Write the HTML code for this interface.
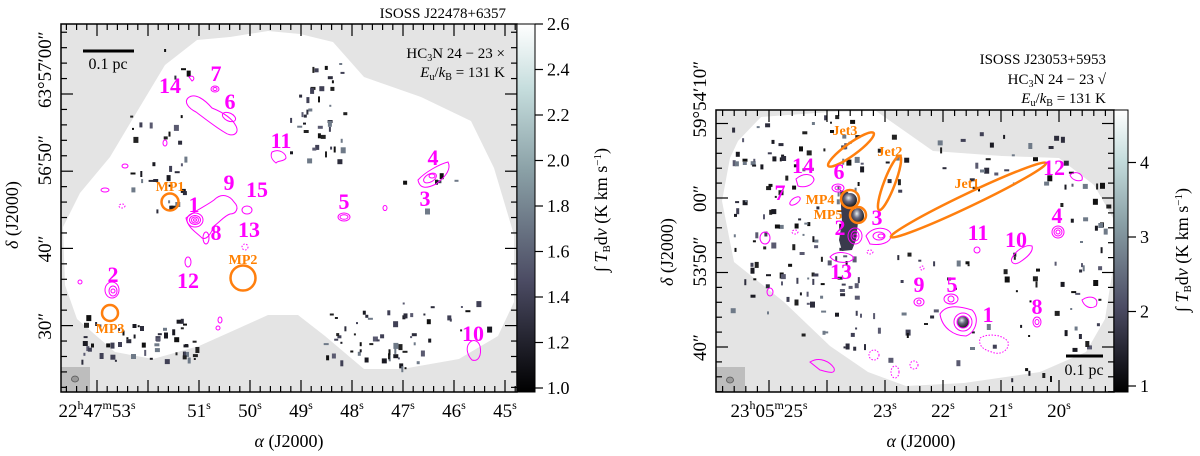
<!DOCTYPE html>
<html><head><meta charset="utf-8"><title>HC3N maps</title>
<style>
html,body{margin:0;padding:0;background:#fff;}
svg{display:block;font-family:"Liberation Serif",serif;}
.num{font-family:"Liberation Serif",serif;font-weight:bold;fill:#ff00ff;font-size:22px;text-anchor:middle;}
.mp{font-family:"Liberation Serif",serif;font-weight:bold;fill:#ff8000;font-size:14px;text-anchor:middle;}
.ct{fill:none;stroke:#ff00ff;stroke-width:1;}
.ctd{fill:none;stroke:#ff00ff;stroke-width:1;stroke-dasharray:1.5 1.5;}
.or{fill:none;stroke:#ff7f0e;stroke-width:2.5;}
</style></head>
<body>
<svg id="fig" width="1200" height="456" viewBox="0 0 1200 456">
<defs>
<linearGradient id="cmap" x1="0" y1="1" x2="0" y2="0">
<stop offset="0" stop-color="#000"/><stop offset="0.3" stop-color="#4b4b63"/><stop offset="0.6" stop-color="#8aa0a6"/><stop offset="0.82" stop-color="#c4dcdc"/><stop offset="1" stop-color="#fff"/>
</linearGradient>
<radialGradient id="sph" cx="0.4" cy="0.35" r="0.7"><stop offset="0" stop-color="#e8f0f0"/><stop offset="0.4" stop-color="#6a6a80"/><stop offset="1" stop-color="#111"/></radialGradient>
<clipPath id="clipL"><rect x="61" y="24" width="456" height="368"/></clipPath>
<clipPath id="clipR"><rect x="716" y="110" width="398" height="282"/></clipPath>
</defs>

<!-- LEFT PANEL -->
<g>
<rect x="61" y="24" width="456" height="368" fill="#e4e4e4"/>
<g clip-path="url(#clipL)">
<path fill="#fff" d="M63,227 L80,193 L110,157 L138,110 L165,65 L197,40 L230,37 L268,31 L300,34 L333,42 L364,77 L421,97 L471,121 L494,168 L514,235 L514,302 L498,336 L459,359 L402,369 L364,369 L325,336 L298,315 L268,315 L237,329 L199,346 L153,359 L115,352 L77,319 L65,285 Z"/>
<g id="specL"></g>
<g>
<path class="ct" d="M188,98 C195,92 205,100 212,108 C222,112 232,118 236,126 C240,134 232,138 224,132 C214,126 204,118 196,112 C188,108 184,102 188,98 Z"/>
<ellipse class="ct" cx="229" cy="117" rx="7" ry="4" transform="rotate(25 229 117)"/>
<ellipse class="ct" cx="215" cy="89" rx="4" ry="3"/><ellipse class="ct" cx="215" cy="89" rx="2" ry="1.5"/>
<path class="ct" d="M189,77 C193,74 196,79 192,81 Z"/>
<path class="ct" d="M272,152 C280,148 286,154 286,158 C284,162 278,160 276,163 C272,160 270,156 272,152 Z"/>
<path class="ct" d="M418,180 C425,172 440,164 448,162 C452,170 444,178 436,184 C428,188 420,190 418,180 Z"/>
<ellipse class="ct" cx="430" cy="178" rx="7" ry="4" transform="rotate(-30 430 178)"/>
<ellipse class="ct" cx="432" cy="176" rx="3" ry="2"/>
<ellipse class="ct" cx="344" cy="217" rx="6" ry="4"/><ellipse class="ct" cx="344" cy="217" rx="4" ry="2.3"/>
<path class="ct" d="M186,218 C196,210 206,206 214,200 C222,192 230,196 234,202 C240,208 236,214 230,214 C224,216 220,222 214,226 C210,236 206,240 202,238 C196,232 188,228 186,218 Z"/>
<ellipse class="ct" cx="195" cy="220" rx="8" ry="7"/><ellipse class="ct" cx="195" cy="220" rx="5.5" ry="4.5"/><ellipse class="ct" cx="195" cy="220" rx="3.5" ry="3"/><ellipse class="ct" cx="195" cy="220" rx="1.5" ry="1.2"/>
<ellipse class="ct" cx="206" cy="238" rx="3" ry="6"/>
<ellipse class="ct" cx="247" cy="210" rx="5" ry="4"/>
<ellipse class="ct" cx="188" cy="262" rx="3" ry="5"/>
<ellipse class="ctd" cx="245" cy="247" rx="3" ry="3"/>
<ellipse class="ct" cx="112" cy="290" rx="7" ry="8"/><ellipse class="ct" cx="113" cy="291" rx="4" ry="5"/><ellipse class="ct" cx="113" cy="291" rx="2" ry="2"/>
<path class="ct" d="M468,345 C472,338 478,340 480,346 C482,356 478,362 472,360 C468,356 466,350 468,345 Z"/>
<ellipse class="ct" cx="125" cy="166" rx="3" ry="2"/><ellipse class="ct" cx="105" cy="190" rx="4" ry="2"/><ellipse class="ctd" cx="122" cy="206" rx="3" ry="2"/>
<ellipse class="ct" cx="165" cy="143" rx="2" ry="3"/><ellipse class="ct" cx="220" cy="320" rx="2" ry="3"/><ellipse class="ct" cx="218" cy="328" rx="2" ry="2"/>
<ellipse class="ct" cx="385" cy="208" rx="2" ry="2.5"/><ellipse class="ct" cx="80" cy="282" rx="2" ry="2"/>
</g>
</g>
<circle class="or" cx="170" cy="202" r="8.5"/>
<circle class="or" cx="243" cy="278" r="12.5"/>
<circle class="or" cx="110" cy="313" r="8"/>
<text class="mp" x="170" y="191">MP1</text>
<text class="mp" x="243" y="264">MP2</text>
<text class="mp" x="110" y="333">MP3</text>
<g>
<text class="num" x="216" y="81">7</text><text class="num" x="170" y="93">14</text><text class="num" x="230" y="109">6</text>
<text class="num" x="281" y="148">11</text><text class="num" x="433" y="165">4</text><text class="num" x="425" y="206">3</text>
<text class="num" x="229" y="190">9</text><text class="num" x="257" y="197">15</text><text class="num" x="194" y="212">1</text>
<text class="num" x="344" y="209">5</text><text class="num" x="216" y="240">8</text><text class="num" x="249" y="237">13</text>
<text class="num" x="188" y="288">12</text><text class="num" x="113" y="282">2</text><text class="num" x="473" y="341">10</text>
</g>
<rect x="61" y="367" width="29" height="25" fill="#bdbdbd"/>
<ellipse cx="75" cy="379" rx="3.5" ry="3" fill="#999" stroke="#555" stroke-width="0.8"/>
<line x1="83" y1="51" x2="134" y2="51" stroke="#000" stroke-width="3"/>
<text x="108" y="69" font-size="16" text-anchor="middle">0.1 pc</text>
<text x="505" y="58" font-size="15" text-anchor="end">HC<tspan font-size="10" dy="3">3</tspan><tspan dy="-3">N 24 − 23 ×</tspan></text>
<text x="505" y="77" font-size="15" text-anchor="end"><tspan font-style="italic">E</tspan><tspan font-size="10" dy="3">u</tspan><tspan dy="-3">/</tspan><tspan font-style="italic">k</tspan><tspan font-size="10" dy="3">B</tspan><tspan dy="-3"> = 131 K</tspan></text>
<text x="506" y="18" font-size="15" text-anchor="end">ISOSS J22478+6357</text>
<g id="axL"></g>
<rect x="61" y="24" width="456" height="368" fill="none" stroke="#000" stroke-width="1.5"/>
<rect x="517" y="24" width="18" height="368" fill="url(#cmap)" stroke="#000" stroke-width="1"/>
<g id="cbL"></g>
<text x="0" y="0" font-size="18" text-anchor="middle" transform="translate(18 215) rotate(-90)"><tspan font-style="italic">δ</tspan> (J2000)</text>
<text x="289" y="447" font-size="18" text-anchor="middle"><tspan font-style="italic">α</tspan> (J2000)</text>
<text x="0" y="0" font-size="18" text-anchor="middle" transform="translate(607 210) rotate(-90)">∫ <tspan font-style="italic">T</tspan><tspan font-size="11" dy="3">B</tspan><tspan dy="-3">d</tspan><tspan font-style="italic">v</tspan> (K km s<tspan font-size="11" dy="-6">−1</tspan><tspan dy="6">)</tspan></text>
</g>

<!-- RIGHT PANEL -->
<g>
<rect x="716" y="110" width="398" height="282" fill="#e4e4e4"/>
<g clip-path="url(#clipR)">
<path fill="#fff" d="M730,158 L738,141 L761,117 L830,112 L876,111 L933,151 L1002,156 L1059,158 L1094,185 L1113,218 L1113,268 L1105,319 L1086,352 L1040,372 L964,383 L906,386 L868,372 L830,346 L784,302 L734,262 L722,201 Z"/>
<g id="specR"></g>
<path d="M840,190 L848,192 L854,206 L858,222 L856,240 L852,250 L842,251 L839,240 L842,222 Z" fill="#3a3a4c"/>
<circle cx="850" cy="200" r="7" fill="url(#sph)"/>
<ellipse cx="858" cy="216" rx="6" ry="8" fill="url(#sph)"/>
<circle cx="963" cy="322" r="6" fill="url(#sph)"/>
<g>
<path class="ct" d="M796,179 C804,172 814,174 814,180 C812,186 804,188 798,186 Z"/>
<ellipse class="ct" cx="795" cy="201" rx="6" ry="3" transform="rotate(-35 795 201)"/>
<ellipse class="ct" cx="838" cy="188" rx="6" ry="4"/><ellipse class="ct" cx="838" cy="188" rx="3" ry="2"/>
<ellipse class="ct" cx="855" cy="236" rx="7" ry="8"/><ellipse class="ct" cx="855" cy="236" rx="4" ry="5"/><ellipse class="ct" cx="855" cy="236" rx="2" ry="2"/>
<path class="ct" d="M866,236 C872,226 888,226 891,234 C892,242 882,246 870,244 Z"/>
<ellipse class="ct" cx="879" cy="236" rx="6" ry="4"/><ellipse class="ct" cx="881" cy="236" rx="3" ry="2"/>
<path class="ct" d="M830,257 C836,250 850,252 854,258 C850,264 836,264 830,257 Z"/>
<ellipse class="ct" cx="1058" cy="232" rx="6" ry="6"/><ellipse class="ct" cx="1058" cy="232" rx="4" ry="4"/><ellipse class="ct" cx="1058" cy="232" rx="2" ry="2"/>
<ellipse class="ct" cx="977" cy="250" rx="3" ry="3"/>
<path class="ct" d="M1012,258 C1016,250 1026,244 1032,246 C1034,252 1026,258 1020,262 C1014,266 1010,262 1012,258 Z"/>
<ellipse class="ct" cx="919" cy="302" rx="5" ry="4"/><ellipse class="ct" cx="919" cy="302" rx="2" ry="2"/>
<ellipse class="ct" cx="951" cy="299" rx="7" ry="5"/><ellipse class="ct" cx="951" cy="299" rx="3" ry="3"/>
<path class="ct" d="M940,314 C946,304 960,306 972,310 C980,318 976,332 966,336 C954,336 942,328 940,314 Z"/>
<ellipse class="ct" cx="963" cy="322" rx="9" ry="9"/><ellipse class="ct" cx="963" cy="322" rx="6" ry="6"/>
<ellipse class="ct" cx="1037" cy="322" rx="4" ry="5"/><ellipse class="ct" cx="1037" cy="322" rx="2" ry="2.5"/>
<path class="ctd" d="M980,338 C990,332 1005,336 1008,342 C1010,350 1000,356 992,352 C984,350 978,346 980,338 Z"/>
<path class="ct" d="M810,362 C820,356 830,362 834,368 C836,375 828,372 820,370 Z"/>
<path class="ct" d="M1070,175 C1076,170 1084,174 1082,180 C1078,182 1072,180 1070,175 Z"/>
<path class="ct" d="M1082,300 C1090,294 1100,298 1096,306 C1090,310 1084,306 1082,300 Z"/>
<ellipse class="ctd" cx="874" cy="355" rx="5" ry="5"/><ellipse class="ctd" cx="895" cy="372" rx="4" ry="6"/><ellipse class="ctd" cx="914" cy="365" rx="4" ry="4"/>
<ellipse class="ctd" cx="795" cy="232" rx="3" ry="2"/><ellipse class="ctd" cx="870" cy="252" rx="3" ry="2"/><ellipse class="ctd" cx="922" cy="268" rx="2" ry="2"/>
<ellipse class="ct" cx="765" cy="238" rx="5" ry="6"/><ellipse class="ct" cx="770" cy="292" rx="3" ry="4"/>
</g>
</g>
<ellipse class="or" cx="851" cy="149.5" rx="28" ry="6" transform="rotate(-36 851 149.5)"/>
<ellipse class="or" cx="889.5" cy="183" rx="29" ry="5.5" transform="rotate(-69 889.5 183)"/>
<ellipse class="or" cx="968.5" cy="200" rx="86" ry="6.5" transform="rotate(-25.5 968.5 200)"/>
<circle class="or" cx="850" cy="199" r="9"/>
<circle class="or" cx="858" cy="215" r="8"/>
<text class="mp" x="845" y="135">Jet3</text>
<text class="mp" x="890" y="156">Jet2</text>
<text class="mp" x="967" y="188">Jet1</text>
<text class="mp" x="820" y="204">MP4</text>
<text class="mp" x="828" y="219">MP5</text>
<g>
<text class="num" x="803" y="173">14</text><text class="num" x="839" y="179">6</text><text class="num" x="780" y="200">7</text>
<text class="num" x="877" y="225">3</text><text class="num" x="840" y="235">2</text><text class="num" x="841" y="279">13</text>
<text class="num" x="978" y="240">11</text><text class="num" x="1016" y="247">10</text><text class="num" x="1054" y="175">12</text>
<text class="num" x="1057" y="223">4</text><text class="num" x="919" y="292">9</text><text class="num" x="952" y="292">5</text>
<text class="num" x="988" y="322">1</text><text class="num" x="1037" y="314">8</text>
</g>
<rect x="716" y="367" width="29" height="25" fill="#bdbdbd"/>
<ellipse cx="730" cy="380" rx="3.5" ry="3" fill="#999" stroke="#555" stroke-width="0.8"/>
<line x1="1066" y1="356" x2="1103" y2="356" stroke="#000" stroke-width="3"/>
<text x="1084" y="375" font-size="16" text-anchor="middle">0.1 pc</text>
<text x="1106" y="64" font-size="15" text-anchor="end">ISOSS J23053+5953</text>
<text x="1106" y="84" font-size="15" text-anchor="end">HC<tspan font-size="10" dy="3">3</tspan><tspan dy="-3">N 24 − 23 √</tspan></text>
<text x="1106" y="103" font-size="15" text-anchor="end"><tspan font-style="italic">E</tspan><tspan font-size="10" dy="3">u</tspan><tspan dy="-3">/</tspan><tspan font-style="italic">k</tspan><tspan font-size="10" dy="3">B</tspan><tspan dy="-3"> = 131 K</tspan></text>
<g id="axR"></g>
<rect x="716" y="110" width="398" height="282" fill="none" stroke="#000" stroke-width="1.5"/>
<rect x="1114" y="110" width="14" height="282" fill="url(#cmap)" stroke="#000" stroke-width="1"/>
<g id="cbR"></g>
<text x="0" y="0" font-size="18" text-anchor="middle" transform="translate(673 252) rotate(-90)"><tspan font-style="italic">δ</tspan> (J2000)</text>
<text x="921" y="447" font-size="18" text-anchor="middle"><tspan font-style="italic">α</tspan> (J2000)</text>
<text x="0" y="0" font-size="18" text-anchor="middle" transform="translate(1188 250) rotate(-90)">∫ <tspan font-style="italic">T</tspan><tspan font-size="11" dy="3">B</tspan><tspan dy="-3">d</tspan><tspan font-style="italic">v</tspan> (K km s<tspan font-size="11" dy="-6">−1</tspan><tspan dy="6">)</tspan></text>
</g>
</svg>
<script>
// Axis data
const leftRaTicks = [53, 51, 50, 49, 48, 47, 46, 45];
const leftRaLabels = ["22h47m53s", "51s", "50s", "49s", "48s", "47s", "46s", "45s"];
const leftDecTicks = [0, -10, -20, -30];
const leftDecLabels = ["63°57′00″", "56′50″", "40″", "30″"];
const leftCbTicks = [1.0, 1.2, 1.4, 1.6, 1.8, 2.0, 2.2, 2.4, 2.6];
const rightRaTicks = [25, 23, 22, 21, 20];
const rightRaLabels = ["23h05m25s", "23s", "22s", "21s", "20s"];
const rightDecTicks = [10, 0, -10, -20];
const rightDecLabels = ["59°54′10″", "00″", "53′50″", "40″"];
const rightCbTicks = [1, 2, 3, 4];

const NS = "http://www.w3.org/2000/svg";
function mk(tag, attrs, parent){const e=document.createElementNS(NS,tag);for(const k in attrs)e.setAttribute(k,attrs[k]);parent.appendChild(e);return e;}

const xL = s => 97 + (53 - s) * 51;
const yL = d => 94 - d * 7.72;
const cL = v => 388 - (v - 1.0) * 227.5;
const xR = s => 769 + (25 - s) * 58;
const yR = d => 198 - d * 7.45;
const cR = v => 386 - (v - 1) * 74.5;

function supLabel(g, x, y, txt){
  const t = mk('text',{x:x,y:y,'font-size':19,'text-anchor':'middle'},g);
  
  
  const parts = txt.match(/(\d+)([hms])/g);
  parts.forEach(p=>{const n=p.slice(0,-1),u=p.slice(-1);
    const a=document.createElementNS(NS,'tspan');a.textContent=n;t.appendChild(a);
    const b=document.createElementNS(NS,'tspan');b.setAttribute('font-size','12');b.setAttribute('dy','-8');b.textContent=u;t.appendChild(b);
    const c=document.createElementNS(NS,'tspan');c.setAttribute('dy','8');c.textContent='\u200B';t.appendChild(c);});
}

function axes(gid, x0, x1, y0, y1, xs, raT, raL, ys, decT, decL, raMinor, decMinor){
  const g=document.getElementById(gid);
  for(let s=raMinor[0]; s>=raMinor[1]; s-=0.2){
    const x=xs(s); if(x<x0||x>x1) continue;
    const major = Math.abs(s-Math.round(s))<0.01;
    const L = major?12:6;
    const a=mk('line',{x1:x,y1:y1,x2:x,y2:y1-L,stroke:'#000','stroke-width':1.2},g);
    
    const b=mk('line',{x1:x,y1:y0,x2:x,y2:y0+L,stroke:'#000','stroke-width':1.2},g);
    
  }
  raT.forEach((s,i)=>supLabel(g, xs(s), y1+25, raL[i]));
  for(let d=decMinor[0]; d>=decMinor[1]; d-=2){
    const y=ys(d); if(y<y0||y>y1) continue;
    const L = (d%10===0)?12:6;
    const a=mk('line',{x1:x0,y1:y,x2:x0+L,y2:y,stroke:'#000','stroke-width':1.2},g);
    
    const b=mk('line',{x1:x1,y1:y,x2:x1-L,y2:y,stroke:'#000','stroke-width':1.2},g);
    
  }
  decT.forEach((d,i)=>{
    const y=ys(d);
    const t=mk('text',{x:0,y:0,'font-size':19,'text-anchor':'start',transform:`translate(${x0-10} ${y+14}) rotate(-90)`},g);
    
    t.textContent=decL[i];
  });
}
axes('axL',61,517,24,392,xL,leftRaTicks,leftRaLabels,yL,leftDecTicks,leftDecLabels,[54,44.6],[8,-40]);
axes('axR',716,1114,110,392,xR,rightRaTicks,rightRaLabels,yR,rightDecTicks,rightDecLabels,[26,18.4],[14,-26]);

function cbar(gid, x, ticks, sc, fmt){
  const g=document.getElementById(gid);
  ticks.forEach(v=>{
    const y=sc(v);
    const l=mk('line',{x1:x,y1:y,x2:x+8,y2:y,stroke:'#000','stroke-width':1.2},g);
    
    const t=mk('text',{x:x+12,y:y+6,'font-size':18},g);
    
    t.textContent=fmt(v);
  });
}
cbar('cbL',535,leftCbTicks,cL,v=>v.toFixed(1));
cbar('cbR',1128,rightCbTicks,cR,v=>String(v));

// decorative noise pixels (image texture, not chart data)
let seed=7;function rnd(){seed=(seed*16807)%2147483647;return seed/2147483647;}
function speck(gid, regions){
  const g=document.getElementById(gid);
  const cols=['#111','#222','#2d2d3c','#404055','#5a5a70','#1a1a22','#6f7a88'];
  regions.forEach(r=>{
    for(let i=0;i<r[4];i++){
      const x=r[0]+rnd()*r[2], y=r[1]+rnd()*r[3];
      const w=2+Math.floor(rnd()*4), h=2+Math.floor(rnd()*5);
      const e=mk('rect',{x:x.toFixed(1),y:y.toFixed(1),width:w,height:h,fill:cols[Math.floor(rnd()*cols.length)]},g);
      
      
    }
  });
}
speck('specL',[[290,50,55,110,40],[130,115,55,95,30],[80,315,120,45,55],[320,310,110,60,50],[400,300,90,30,10],[400,170,60,40,6],[150,45,40,35,4]]);
speck('specR',[[730,115,130,200,130],[860,130,250,60,40],[1060,170,50,180,30],[880,250,180,130,40],[800,300,80,60,12]]);
</script>
</body></html>
